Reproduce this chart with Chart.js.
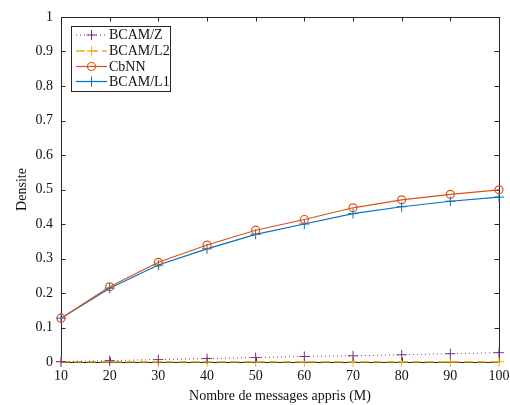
<!DOCTYPE html>
<html><head><meta charset="utf-8">
<script src="https://cdn.jsdelivr.net/npm/chart.js@4/dist/chart.umd.min.js"></script>
<style>html,body{margin:0;padding:0;background:#fff}#wrap{width:510px;height:405px}</style>
</head><body><div id="wrap"><canvas id="c" width="510" height="405"></canvas></div>
<script>
const messages = [10,20,30,40,50,60,70,80,90,100];
const bcamZ  = [0.001,0.004,0.007,0.010,0.013,0.016,0.018,0.021,0.024,0.027];
const bcamL2 = [0.0005,0.0005,0.0005,0.0005,0.0005,0.0005,0.0005,0.0005,0.0005,0.0005];
const cbnn   = [0.127,0.218,0.289,0.339,0.382,0.413,0.447,0.470,0.486,0.499];
const bcamL1 = [0.127,0.214,0.281,0.328,0.370,0.400,0.430,0.450,0.466,0.478];
const seriesNames = ['BCAM/Z','BCAM/L2','CbNN','BCAM/L1'];
const xTicks = [10,20,30,40,50,60,70,80,90,100];
const yTicks = [0,0.1,0.2,0.3,0.4,0.5,0.6,0.7,0.8,0.9,1];

const FONT = '"Liberation Serif", serif';
const pts = arr => messages.map((m,i)=>({x:m,y:arr[i]}));

const datasets = [
  {label:seriesNames[0], data:pts(bcamZ), borderColor:'#7E2F8E', backgroundColor:'#7E2F8E', borderWidth:1, borderDash:[1,3], pointStyle:'cross', pointRadius:5, pointBorderWidth:1, clip:8},
  {label:seriesNames[1], data:pts(bcamL2), borderColor:'#EDB120', backgroundColor:'#EDB120', borderWidth:1.5, borderDash:[9,4], pointStyle:'cross', pointRadius:5, pointBorderWidth:1, clip:8},
  {label:seriesNames[2], data:pts(cbnn), borderColor:'#D95319', backgroundColor:'rgba(0,0,0,0)', borderWidth:1.2, pointStyle:'circle', pointRadius:4, pointBorderWidth:1.2, clip:8},
  {label:seriesNames[3], data:pts(bcamL1), borderColor:'#0072BD', backgroundColor:'#0072BD', borderWidth:1.2, pointStyle:'cross', pointRadius:5, pointBorderWidth:1, clip:8}
];

const framePlugin = {
  id:'frame',
  beforeDatasetsDraw(chart){
    const {ctx, chartArea:a, scales:{x,y}} = chart;
    ctx.save();
    ctx.strokeStyle = '#262626'; ctx.lineWidth = 1;
    ctx.beginPath();
    ctx.rect(Math.round(a.left)+0.5, Math.round(a.top)+0.5, Math.round(a.right-a.left), Math.round(a.bottom-a.top));
    ctx.stroke();
    const L = 4.5;
    ctx.beginPath();
    xTicks.forEach(v=>{const px=Math.round(x.getPixelForValue(v))+0.5;
      ctx.moveTo(px,a.bottom); ctx.lineTo(px,a.bottom-L);
      ctx.moveTo(px,a.top); ctx.lineTo(px,a.top+L);});
    yTicks.forEach(v=>{const py=Math.round(y.getPixelForValue(v))+0.5;
      ctx.moveTo(a.left,py); ctx.lineTo(a.left+L,py);
      ctx.moveTo(a.right,py); ctx.lineTo(a.right-L,py);});
    ctx.stroke();
    ctx.restore();
  },
  afterDatasetsDraw(chart){
    const {ctx} = chart;
    ctx.save();
    const bx=71.5, by=26.5, bw=99, bh=65;
    ctx.fillStyle='#fff'; ctx.fillRect(bx,by,bw,bh);
    ctx.strokeStyle='#262626'; ctx.lineWidth=1; ctx.strokeRect(bx,by,bw,bh);
    const rows=[35,51,66.5,81.5];
    chart.data.datasets.forEach((d,i)=>{
      const yy=rows[i];
      ctx.save();
      ctx.strokeStyle=d.borderColor; ctx.lineWidth=d.borderWidth;
      ctx.setLineDash(d.borderDash||[]);
      ctx.beginPath(); ctx.moveTo(76,yy); ctx.lineTo(107,yy); ctx.stroke();
      ctx.setLineDash([]);
      ctx.strokeStyle=d.borderColor; ctx.fillStyle=d.backgroundColor; ctx.lineWidth=d.pointBorderWidth;
      Chart.helpers.drawPoint(ctx,{pointStyle:d.pointStyle,radius:d.pointRadius,borderWidth:d.pointBorderWidth,rotation:0},91.5,yy);
      ctx.restore();
      ctx.fillStyle='#111'; ctx.font='14px '+FONT; ctx.textBaseline='middle'; ctx.textAlign='left';
      ctx.fillText(d.label,109,yy+0.5);
    });
    ctx.restore();
  }
};

new Chart(document.getElementById('c'),{
  type:'line',
  data:{datasets},
  options:{
    responsive:false, animation:false, devicePixelRatio:1,
    layout:{padding:{top:17,right:11,left:0,bottom:0}},
    plugins:{legend:{display:false}, tooltip:{enabled:false}},
    elements:{line:{tension:0}},
    scales:{
      x:{type:'linear', min:10, max:100,
        afterBuildTicks:s=>{s.ticks=xTicks.map(v=>({value:v}));},
        afterFit:s=>{s.height=43; s.paddingLeft=0; s.paddingRight=0;},
        grid:{display:false, drawTicks:false}, border:{display:false},
        ticks:{padding:6, color:'#111', font:{family:FONT,size:14}, maxRotation:0, callback:v=>String(v)},
        title:{display:true,text:'Nombre de messages appris (M)',color:'#111',font:{family:FONT,size:14,weight:'normal'},padding:{top:2,bottom:0}}},
      y:{type:'linear', min:0, max:1,
        afterBuildTicks:s=>{s.ticks=yTicks.map(v=>({value:v}));},
        afterFit:s=>{s.width=61; s.paddingTop=0; s.paddingBottom=0;},
        grid:{display:false, drawTicks:false}, border:{display:false},
        ticks:{padding:8, color:'#111', font:{family:FONT,size:14}, callback:v=>String(+v.toFixed(1))},
        title:{display:true,text:'Densite',color:'#111',font:{family:FONT,size:14,weight:'normal'},padding:{top:14,bottom:4}}}
    }
  },
  plugins:[framePlugin]
});
</script></body></html>
